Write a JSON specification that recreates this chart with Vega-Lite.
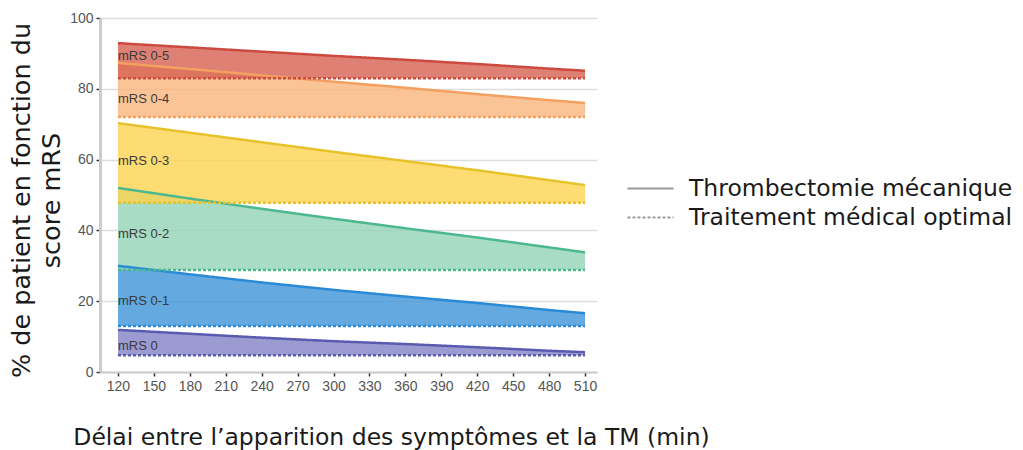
{
  "$schema": "https://vega.github.io/schema/vega-lite/v6.json",
  "width": 497,
  "height": 354,
  "autosize": {"type": "none"},
  "padding": {"left": 100, "top": 18, "right": 426, "bottom": 78},
  "background": "white",
  "config": {"view": {"stroke": null}},
  "datasets": {
    "bands": [
      {"band": "mRS 0", "t": 120, "tm": 11.9, "omt": 4.7},
      {"band": "mRS 0", "t": 180, "tm": 10.8, "omt": 4.7},
      {"band": "mRS 0", "t": 240, "tm": 9.7, "omt": 4.7},
      {"band": "mRS 0", "t": 300, "tm": 8.7, "omt": 4.7},
      {"band": "mRS 0", "t": 360, "tm": 7.9, "omt": 4.7},
      {"band": "mRS 0", "t": 420, "tm": 7.0, "omt": 4.7},
      {"band": "mRS 0", "t": 480, "tm": 6.0, "omt": 4.7},
      {"band": "mRS 0", "t": 510, "tm": 5.6, "omt": 4.7},
      {"band": "mRS 0-1", "t": 120, "tm": 30.0, "omt": 13.0},
      {"band": "mRS 0-1", "t": 180, "tm": 27.6, "omt": 13.0},
      {"band": "mRS 0-1", "t": 240, "tm": 25.3, "omt": 13.0},
      {"band": "mRS 0-1", "t": 300, "tm": 23.2, "omt": 13.0},
      {"band": "mRS 0-1", "t": 360, "tm": 21.3, "omt": 13.0},
      {"band": "mRS 0-1", "t": 420, "tm": 19.5, "omt": 13.0},
      {"band": "mRS 0-1", "t": 480, "tm": 17.5, "omt": 13.0},
      {"band": "mRS 0-1", "t": 510, "tm": 16.6, "omt": 13.0},
      {"band": "mRS 0-2", "t": 120, "tm": 52.0, "omt": 28.8},
      {"band": "mRS 0-2", "t": 180, "tm": 49.0, "omt": 28.8},
      {"band": "mRS 0-2", "t": 240, "tm": 46.1, "omt": 28.8},
      {"band": "mRS 0-2", "t": 300, "tm": 43.3, "omt": 28.8},
      {"band": "mRS 0-2", "t": 360, "tm": 40.6, "omt": 28.8},
      {"band": "mRS 0-2", "t": 420, "tm": 38.0, "omt": 28.8},
      {"band": "mRS 0-2", "t": 480, "tm": 35.2, "omt": 28.8},
      {"band": "mRS 0-2", "t": 510, "tm": 33.8, "omt": 28.8},
      {"band": "mRS 0-3", "t": 120, "tm": 70.3, "omt": 47.8},
      {"band": "mRS 0-3", "t": 180, "tm": 67.6, "omt": 47.8},
      {"band": "mRS 0-3", "t": 240, "tm": 64.9, "omt": 47.8},
      {"band": "mRS 0-3", "t": 300, "tm": 62.2, "omt": 47.8},
      {"band": "mRS 0-3", "t": 360, "tm": 59.6, "omt": 47.8},
      {"band": "mRS 0-3", "t": 420, "tm": 57.0, "omt": 47.8},
      {"band": "mRS 0-3", "t": 480, "tm": 54.2, "omt": 47.8},
      {"band": "mRS 0-3", "t": 510, "tm": 52.8, "omt": 47.8},
      {"band": "mRS 0-4", "t": 120, "tm": 87.3, "omt": 72.0},
      {"band": "mRS 0-4", "t": 180, "tm": 85.6, "omt": 72.0},
      {"band": "mRS 0-4", "t": 240, "tm": 83.8, "omt": 72.0},
      {"band": "mRS 0-4", "t": 300, "tm": 82.0, "omt": 72.0},
      {"band": "mRS 0-4", "t": 360, "tm": 80.3, "omt": 72.0},
      {"band": "mRS 0-4", "t": 420, "tm": 78.5, "omt": 72.0},
      {"band": "mRS 0-4", "t": 480, "tm": 76.8, "omt": 72.0},
      {"band": "mRS 0-4", "t": 510, "tm": 76.0, "omt": 72.0},
      {"band": "mRS 0-5", "t": 120, "tm": 92.9, "omt": 83.0},
      {"band": "mRS 0-5", "t": 180, "tm": 91.7, "omt": 83.0},
      {"band": "mRS 0-5", "t": 240, "tm": 90.5, "omt": 83.0},
      {"band": "mRS 0-5", "t": 300, "tm": 89.3, "omt": 83.0},
      {"band": "mRS 0-5", "t": 360, "tm": 88.2, "omt": 83.0},
      {"band": "mRS 0-5", "t": 420, "tm": 87.0, "omt": 83.0},
      {"band": "mRS 0-5", "t": 480, "tm": 85.7, "omt": 83.0},
      {"band": "mRS 0-5", "t": 510, "tm": 85.1, "omt": 83.0}
    ],
    "labels": [
      {"label": "mRS 0-5", "t": 120, "y": 89.3},
      {"label": "mRS 0-4", "t": 120, "y": 77.0},
      {"label": "mRS 0-3", "t": 120, "y": 59.6},
      {"label": "mRS 0-2", "t": 120, "y": 39.0},
      {"label": "mRS 0-1", "t": 120, "y": 20.1},
      {"label": "mRS 0", "t": 120, "y": 7.4}
    ]
  },
  "data": {"name": "bands"},
  "encoding": {
    "x": {
      "field": "t",
      "type": "quantitative",
      "scale": {"domain": [105, 520], "nice": false, "zero": false},
      "axis": {
        "values": [120, 150, 180, 210, 240, 270, 300, 330, 360, 390, 420, 450, 480, 510],
        "title": "Délai entre l’apparition des symptômes et la TM (min)",
        "titleFont": "DejaVu Sans",
        "titleFontSize": 23.5,
        "titleFontWeight": "normal",
        "titleColor": "#1a1a1a",
        "titleX": 291,
        "titleY": 65,
        "titleAlign": "center",
        "titleBaseline": "middle",
        "labelFont": "Liberation Sans",
        "labelFontSize": 14,
        "labelColor": "#555555",
        "labelPadding": 3,
        "tickColor": "#333333",
        "tickSize": 4,
        "tickWidth": 1.5,
        "domainColor": "#cccccc",
        "domainWidth": 2,
        "grid": false
      }
    }
  },
  "layer": [
    {
      "mark": {"type": "area", "opacity": 0.8},
      "encoding": {
        "y": {
          "field": "tm",
          "type": "quantitative",
          "scale": {"domain": [0, 100], "nice": false},
          "axis": {
            "values": [0, 20, 40, 60, 80, 100],
            "title": ["% de patient en fonction du", "score mRS"],
            "titleFont": "DejaVu Sans",
            "titleFontSize": 25.5,
            "titleFontWeight": "normal",
            "titleColor": "#1a1a1a",
            "titleLineHeight": 30,
            "titleAngle": 270,
            "titleX": -91,
            "titleY": 182,
            "titleAlign": "center",
            "titleBaseline": "top",
            "labelFont": "Liberation Sans",
            "labelFontSize": 14,
            "labelColor": "#555555",
            "labelPadding": 3,
            "tickColor": "#333333",
            "tickSize": 4,
            "tickWidth": 1.5,
            "domainColor": "#cccccc",
            "domainWidth": 3,
            "grid": true,
            "gridColor": "#dddddd",
            "gridWidth": 1.5
          }
        },
        "y2": {"field": "omt"},
        "fill": {
          "field": "band",
          "type": "nominal",
          "scale": {
            "domain": ["mRS 0", "mRS 0-1", "mRS 0-2", "mRS 0-3", "mRS 0-4", "mRS 0-5"],
            "range": ["#8282c7", "#3d95da", "#92d3b5", "#fdd350", "#f9b57c", "#d66050"]
          },
          "legend": null
        }
      }
    },
    {
      "mark": {"type": "line", "strokeWidth": 2.5},
      "encoding": {
        "y": {"field": "tm", "type": "quantitative"},
        "stroke": {
          "field": "band",
          "type": "nominal",
          "scale": {
            "domain": ["mRS 0", "mRS 0-1", "mRS 0-2", "mRS 0-3", "mRS 0-4", "mRS 0-5"],
            "range": ["#5a5ab0", "#2a8ad6", "#4cb890", "#e8c22a", "#f4a060", "#cc4a40"]
          },
          "legend": null
        },
        "strokeDash": {
          "datum": "Thrombectomie mécanique",
          "type": "nominal",
          "scale": {
            "domain": ["Thrombectomie mécanique", "Traitement médical optimal"],
            "range": [[1, 0], [3, 2]]
          },
          "legend": {
            "orient": "none",
            "legendX": 538,
            "legendY": 158,
            "title": null,
            "symbolType": "M-2,0H2",
            "symbolSize": 529,
            "symbolStrokeWidth": 2,
            "symbolStrokeColor": "#9a9a9a",
            "labelFont": "DejaVu Sans",
            "labelFontSize": 23.5,
            "labelColor": "#1a1a1a",
            "labelOffset": 26,
            "labelLimit": 0,
            "rowPadding": 5
          }
        }
      }
    },
    {
      "mark": {"type": "line", "strokeWidth": 2.5},
      "encoding": {
        "y": {"field": "omt", "type": "quantitative"},
        "stroke": {"field": "band", "type": "nominal", "legend": null},
        "strokeDash": {"datum": "Traitement médical optimal", "type": "nominal"}
      }
    },
    {
      "data": {"name": "labels"},
      "mark": {
        "type": "text",
        "align": "left",
        "baseline": "middle",
        "font": "Liberation Sans",
        "fontSize": 13,
        "color": "#3a3a3a"
      },
      "encoding": {
        "y": {"field": "y", "type": "quantitative"},
        "text": {"field": "label"}
      }
    }
  ]
}
